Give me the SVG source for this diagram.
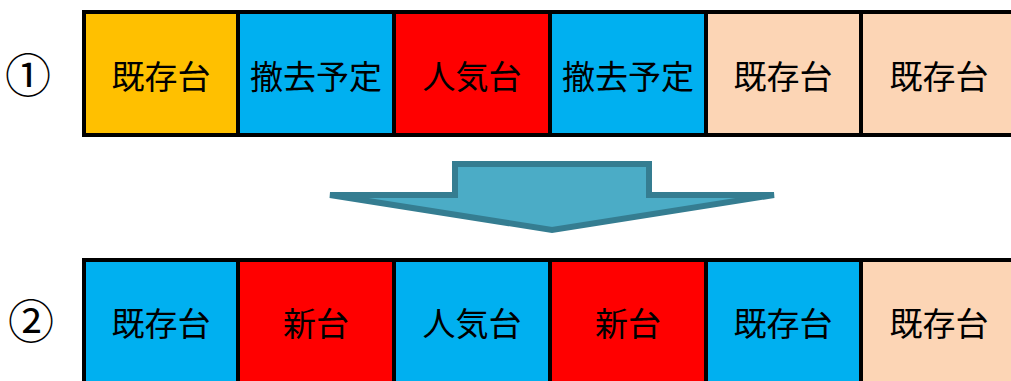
<svg xmlns="http://www.w3.org/2000/svg" width="1011" height="381" viewBox="0 0 1011 381">
<style>
.t{font-family:"Noto Sans CJK JP","Noto Sans CJK SC",sans-serif;font-size:33px;fill:#000;text-anchor:middle;dominant-baseline:central}
.n{font-family:"Noto Sans CJK JP","Noto Sans CJK SC",sans-serif;font-size:46px;fill:#000;text-anchor:middle;dominant-baseline:central}
.c{stroke:#000;stroke-width:4}
.o{fill:#FFC000}.b{fill:#00B0F0}.r{fill:#FF0000}.p{fill:#FCD5B5}
</style>
<rect width="1011" height="381" fill="#fff"/>
<text class="n" x="28" y="72">①</text>
<text class="n" x="31" y="318">②</text>
<g id="row1">
<g id="r1c1"><rect class="o c" x="84" y="12" width="154" height="123"/><text class="t" x="161" y="75">既存台</text></g>
<g id="r1c2"><rect class="b c" x="238" y="12" width="156" height="123"/><text class="t" x="316" y="75">撤去予定</text></g>
<g id="r1c3"><rect class="r c" x="394" y="12" width="156" height="123"/><text class="t" x="472" y="75">人気台</text></g>
<g id="r1c4"><rect class="b c" x="550" y="12" width="156" height="123"/><text class="t" x="628" y="75">撤去予定</text></g>
<g id="r1c5"><rect class="p c" x="706" y="12" width="155" height="123"/><text class="t" x="783" y="75">既存台</text></g>
<g id="r1c6"><rect class="p c" x="861" y="12" width="160" height="123"/><text class="t" x="939" y="75">既存台</text></g>
</g>
<g id="connectors">
<polygon points="455,164 649,164 649,195 774,195 552,230 330,195 455,195" fill="#4BACC6" stroke="#357D91" stroke-width="6" stroke-linejoin="miter"/>
</g>
<g id="row2">
<g id="r2c1"><rect class="b c" x="84" y="260" width="154" height="130"/><text class="t" x="161" y="322">既存台</text></g>
<g id="r2c2"><rect class="r c" x="238" y="260" width="156" height="130"/><text class="t" x="316" y="322">新台</text></g>
<g id="r2c3"><rect class="b c" x="394" y="260" width="156" height="130"/><text class="t" x="472" y="322">人気台</text></g>
<g id="r2c4"><rect class="r c" x="550" y="260" width="156" height="130"/><text class="t" x="628" y="322">新台</text></g>
<g id="r2c5"><rect class="b c" x="706" y="260" width="155" height="130"/><text class="t" x="783" y="322">既存台</text></g>
<g id="r2c6"><rect class="p c" x="861" y="260" width="160" height="130"/><text class="t" x="939" y="322">既存台</text></g>
</g>
</svg>
